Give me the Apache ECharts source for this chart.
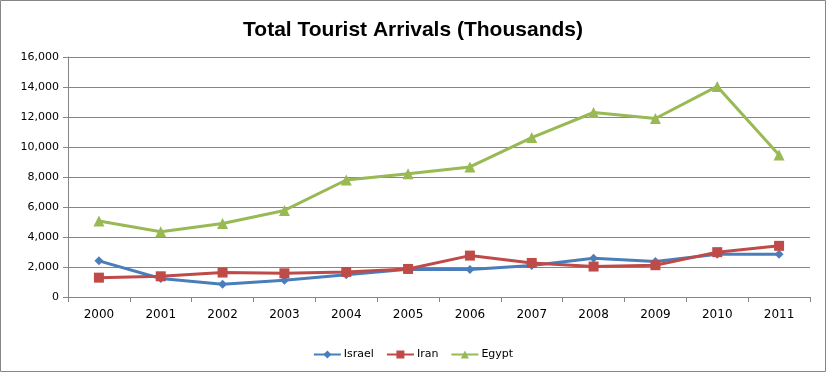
<!DOCTYPE html>
<html><head><meta charset="utf-8">
<script src="https://cdn.jsdelivr.net/npm/echarts@6/dist/echarts.min.js"></script>
<style>html,body{margin:0;padding:0;background:#fff}#c{width:826px;height:372px}</style>
</head><body><div id="c"></div>
<script>
const years = ['2000','2001','2002','2003','2004','2005','2006','2007','2008','2009','2010','2011'];
const israel = [2410,1230,850,1110,1490,1850,1830,2100,2590,2360,2850,2850];
const iran = [1290,1380,1630,1580,1670,1870,2760,2270,2030,2120,2990,3410];
const egypt = [5060,4350,4900,5770,7800,8220,8670,10630,12300,11900,14040,9470];
const yTicks = [0,2000,4000,6000,8000,10000,12000,14000,16000];

const font = 'DejaVu Sans';
const chart = echarts.init(document.getElementById('c'), null, {renderer:'canvas'});
chart.setOption({
  animation:false,
  backgroundColor:'#fff',
  title:{text:'Total Tourist Arrivals (Thousands)', left:'center', top:15,
    textStyle:{fontFamily:'Liberation Sans', fontWeight:'bold', fontSize:21, color:'#000'}},
  graphic:[{type:'rect', shape:{x:0.5,y:0.5,width:825,height:371}, style:{fill:null, stroke:'#868686', lineWidth:1}, silent:true}],
  grid:{left:68, right:16, top:57, bottom:75},
  legend:{top:344, left:'center', itemWidth:27, itemHeight:10, itemGap:12,
    textStyle:{fontFamily:font, fontSize:11, color:'#000', padding:[0,0,0,-2]}, data:['Israel','Iran','Egypt']},
  xAxis:{type:'category', data:years, boundaryGap:true,
    axisLine:{lineStyle:{color:'#868686'}},
    axisTick:{show:true, length:5, lineStyle:{color:'#868686'}},
    axisLabel:{fontFamily:font, fontSize:12, color:'#000', margin:12}},
  yAxis:{type:'value', min:yTicks[0], max:yTicks[yTicks.length-1], interval:2000,
    axisLine:{show:true, lineStyle:{color:'#868686'}},
    axisTick:{show:true, length:5, lineStyle:{color:'#868686'}},
    splitLine:{lineStyle:{color:'#868686'}},
    axisLabel:{fontFamily:font, fontSize:11, color:'#000', margin:9,
      formatter:v=>v.toLocaleString('en-US')}},
  series:[
    {name:'Israel', type:'line', data:israel, symbol:'diamond', symbolSize:9,
      lineStyle:{width:3,color:'#4A7EBB'}, itemStyle:{color:'#4A7EBB'}},
    {name:'Iran', type:'line', data:iran, symbol:'rect', symbolSize:10,
      lineStyle:{width:3,color:'#BE4B48'}, itemStyle:{color:'#BE4B48'}},
    {name:'Egypt', type:'line', data:egypt, symbol:'triangle', symbolSize:11,
      lineStyle:{width:3,color:'#98B954'}, itemStyle:{color:'#98B954'}}
  ]
});
</script></body></html>
